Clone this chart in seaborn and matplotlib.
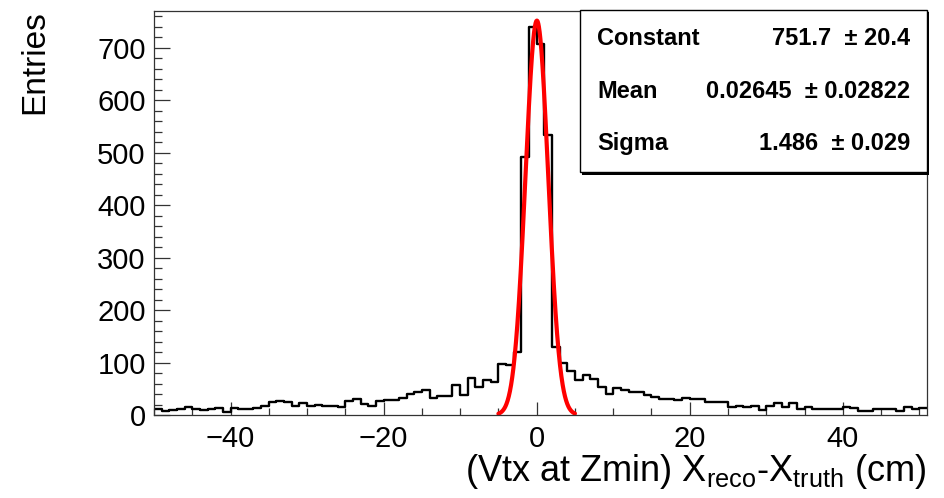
import numpy as np
import pandas as pd
import matplotlib
matplotlib.use("Agg")
import matplotlib.pyplot as plt
import seaborn as sns
from matplotlib.ticker import MultipleLocator
from matplotlib.patches import Rectangle

# ---- data -------------------------------------------------------------
bin_low = -50          # first bin lower edge (cm)
bin_width = 1          # bin width (cm)
counts = [
    11, 7, 9, 12, 15, 11, 9, 12, 14, 5,        # -50 .. -41
    14, 11, 12, 14, 17, 25, 27, 25, 17, 23,    # -40 .. -31
    17, 20, 18, 17, 16, 27, 30, 21, 18, 26,    # -30 .. -21
    29, 29, 33, 40, 44, 47, 32, 36, 36, 58,    # -20 .. -11
    38, 70, 54, 66, 63, 97, 95, 121, 492, 740, # -10 .. -1
    708, 534, 130, 99, 83, 67, 76, 68, 54, 40, # 0 .. 9
    51, 48, 43, 43, 38, 35, 31, 30, 28, 32,    # 10 .. 19
    31, 31, 25, 25, 25, 16, 18, 16, 17, 10,    # 20 .. 29
    17, 22, 16, 23, 12, 16, 12, 12, 12, 12,    # 30 .. 39
    15, 13, 8, 8, 11, 12, 12, 8, 15, 12,       # 40 .. 49
    13,                                        # 50
]
fit_names = ["Constant", "Mean", "Sigma"]
fit_values = [751.7, 0.02645, 1.486]
fit_errors = [20.4, 0.02822, 0.029]
fit_value_text = ["751.7", "0.02645", "1.486"]
fit_error_text = ["20.4", "0.02822", "0.029"]
fit_range = [-5.0, 5.0]
x_label = r"(Vtx at Zmin) X$_{\mathregular{reco}}$-X$_{\mathregular{truth}}$ (cm)"
y_label = "Entries"

# ---- build tables -----------------------------------------------------
n = len(counts)
edges = [float(bin_low + bin_width * i) for i in range(n + 1)]
centers = [e + bin_width / 2 for e in edges[:-1]]
hist_df = pd.DataFrame({"x": centers, "w": counts})

const, mean, sigma = fit_values
xf = np.linspace(fit_range[0], fit_range[1], 400)
fit_df = pd.DataFrame({"x": xf, "y": const * np.exp(-0.5 * ((xf - mean) / sigma) ** 2)})

# ---- plot -------------------------------------------------------------
sns.set_style("ticks")
plt.rcParams["font.family"] = ["Liberation Sans", "DejaVu Sans"]
plt.rcParams["mathtext.fontset"] = "custom"
plt.rcParams["mathtext.rm"] = "Liberation Sans"
plt.rcParams["mathtext.bf"] = "Liberation Sans:bold"
for k in ["text.color", "xtick.color", "ytick.color", "axes.labelcolor"]:
    plt.rcParams[k] = "black"

fig = plt.figure(figsize=(9.45, 4.98), dpi=100)
ax = fig.add_axes([154 / 945, 1 - 415 / 498, (927 - 154) / 945, (415 - 11) / 498])

sns.histplot(data=hist_df, x="x", weights="w", bins=edges, element="step",
             fill=False, color="black", linewidth=1.7, ax=ax)
sns.lineplot(data=fit_df, x="x", y="y", color="red", linewidth=3.0, ax=ax)

ax.set_xlim(edges[0], edges[-1])
ax.set_ylim(0, 770)

ax.xaxis.set_major_locator(MultipleLocator(20))
ax.xaxis.set_minor_locator(MultipleLocator(5))
ax.yaxis.set_major_locator(MultipleLocator(100))
ax.yaxis.set_minor_locator(MultipleLocator(20))
ax.tick_params(axis="both", which="both", direction="in", top=False, right=False,
               labelsize=21, color="#333333", labelcolor="black")
ax.tick_params(axis="y", which="major", length=11.5, width=0.9, pad=6)
ax.tick_params(axis="y", which="minor", length=5.8, width=0.9)
ax.tick_params(axis="x", which="major", length=9.5, width=0.9, pad=7)
ax.tick_params(axis="x", which="minor", length=4.8, width=0.9)
for s in ax.spines.values():
    s.set_visible(True)
    s.set_linewidth(0.9)
    s.set_color("#333333")

ax.set_xlabel("")
ax.set_ylabel("")
fig.text(927 / 945, 1 - 481 / 498, x_label, ha="right", va="baseline", fontsize=26)
fig.text(50 / 945, 1 - 10 / 498, y_label, ha="right", va="top", rotation=90, fontsize=24)

# ---- stats box --------------------------------------------------------
bx0, by0, bx1, by1 = 580 / 945, 1 - 172 / 498, 927 / 945, 1 - 10 / 498
shadow = Rectangle((bx0 + 2.5 / 945, by0 - 2.5 / 498), bx1 - bx0, by1 - by0,
                   transform=fig.transFigure, facecolor="black", edgecolor="none", zorder=5)
box = Rectangle((bx0, by0), bx1 - bx0, by1 - by0, transform=fig.transFigure,
                facecolor="white", edgecolor="black", linewidth=1.0, zorder=6)
fig.patches.extend([shadow, box])
baselines = [45, 98, 150]
for name, vt, et, yb in zip(fit_names, fit_value_text, fit_error_text, baselines):
    fig.text(597 / 945, 1 - yb / 498, name, ha="left", va="baseline",
             fontsize=17, fontweight="bold", zorder=7)
    fig.text(910 / 945, 1 - yb / 498, f"{vt}  \u00b1 {et}", ha="right", va="baseline",
             fontsize=17, fontweight="bold", zorder=7)

fig.savefig("out.png", dpi=100, facecolor="white")
